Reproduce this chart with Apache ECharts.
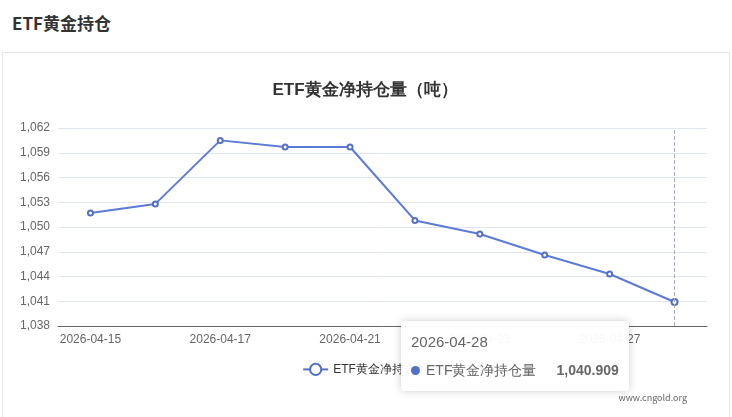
<!DOCTYPE html>
<html><head><meta charset="utf-8">
<script src="https://cdn.jsdelivr.net/npm/echarts@6/dist/echarts.min.js"></script>
<style>
body{margin:0;background:#fff;font-family:"Noto Sans CJK SC","Noto Sans",sans-serif;}
#hd{position:absolute;left:12px;top:10px;font-size:17px;font-weight:bold;color:#333;}
#box{position:absolute;left:2px;top:52px;width:726px;height:370px;border:1px solid #e6e6e6;border-bottom:none;}
#clip{position:absolute;left:18px;top:0;width:708px;height:370px;overflow:hidden;}
#main{position:absolute;left:-20px;top:0;width:728px;height:370px;}
#wm{position:absolute;right:42px;top:338px;font-size:9px;color:#666;}
</style></head>
<body>
<div id="hd">ETF黄金持仓</div>
<div id="box"><div id="clip"><div id="main"></div></div><div id="wm">www.cngold.org</div></div>
<script>
var dates = ['2026-04-15','2026-04-16','2026-04-17','2026-04-20','2026-04-21','2026-04-22','2026-04-23','2026-04-24','2026-04-27','2026-04-28'];
var holdings = [1051.7, 1052.8, 1060.5, 1059.7, 1059.7, 1050.8, 1049.15, 1046.6, 1044.3, 1040.909];

var myChart = echarts.init(document.getElementById('main'));
var option = {
    backgroundColor: '#fff',
    title: {
        text: 'ETF黄金净持仓量（吨）',
        left: 'center', top: 24,
        textStyle: {fontSize: 17, fontWeight: 'bold', color: '#333'}
    },
    tooltip: {
        trigger: 'axis',
        axisPointer: {type: 'line', lineStyle: {color: '#aab', type: 'dashed'}},
        backgroundColor: 'rgba(255,255,255,0.95)',
        borderWidth: 0,
        extraCssText: 'box-shadow:0 0 8px rgba(0,0,0,0.2);',
        formatter: function (p) {
            var v = p[0].value.toLocaleString('en-US', {minimumFractionDigits: 3});
            return '<div style="font-size:15px;color:#666;margin-bottom:8px">' + p[0].name + '</div>' +
                '<span style="display:inline-block;width:9px;height:9px;border-radius:50%;background:#5470c6;margin-right:6px"></span>' +
                '<span style="font-size:14px;color:#666">' + p[0].seriesName + '</span>' +
                '<b style="font-size:14px;color:#666;margin-left:20px">' + v + '</b>';
        }
    },
    legend: {bottom: 42, itemWidth: 25, textStyle: {color: '#333', fontSize: 12}, data: ['ETF黄金净持仓量']},
    grid: {left: 57, right: 22, top: 75, bottom: 97},
    xAxis: {
        type: 'category', data: dates,
        axisTick: {show: false},
        axisLine: {lineStyle: {color: '#666'}},
        axisLabel: {color: '#666', fontSize: 12, interval: 1}
    },
    yAxis: {
        type: 'value', min: 1038, max: 1062, interval: 3,
        axisLabel: {color: '#666', fontSize: 12, formatter: function (v) { return v.toLocaleString('en-US'); }},
        splitLine: {lineStyle: {color: '#e0e6f1'}}
    },
    series: [{
        name: 'ETF黄金净持仓量', type: 'line', data: holdings,
        symbol: 'emptyCircle', symbolSize: 5,
        lineStyle: {color: '#5470c6', width: 2},
        itemStyle: {color: '#5470c6'}
    }]
};
myChart.setOption(option);
setTimeout(function () {
    myChart.dispatchAction({type: 'showTip', seriesIndex: 0, dataIndex: 9, position: [400, 268]});
}, 100);
</script>
</body></html>
